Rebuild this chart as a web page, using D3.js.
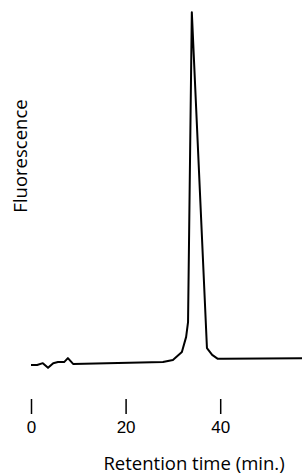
<!DOCTYPE html>
<html>
<head>
<meta charset="utf-8">
<script src="https://cdn.jsdelivr.net/npm/d3@7"></script>
<style>
  body { margin: 0; background: #fff; }
  svg { display: block; font-family: "Open Sans", sans-serif; }
  .trace { fill: none; stroke: #000; stroke-width: 2; stroke-linejoin: round; }
  .axis path.domain { display: none; }
  .axis line { stroke: #000; stroke-width: 1.5; }
  .axis text { fill: #000; font-size: 17px; }
  .label { font-size: 18.5px; fill: #000; }
</style>
</head>
<body>
<svg id="chart"></svg>
<script>
// retention time (min.) and fluorescence (arbitrary units)
const retentionTime = [0, 1.3, 2.5, 3.6, 4.7, 5.7, 7.0, 7.8, 8.9, 27.9, 30.0, 31.9, 32.8, 33.2, 34.0, 37.2, 38.3, 39.5, 40.6, 57.5];
const fluorescence  = [1.4, 1.4, 1.9, 0.6, 1.9, 2.2, 2.2, 3.3, 1.7, 2.2, 2.8, 5.0, 9.2, 13.3, 99.4, 6.1, 4.2, 3.1, 3.1, 3.3];
const xTicks = [0, 20, 40];

const width = 302, height = 475;

const svg = d3.select('#chart')
    .attr('width', width)
    .attr('height', height);

const x = d3.scaleLinear().domain([0, 40]).range([31, 220.2]);
const y = d3.scaleLinear().domain([0, 100]).range([370, 10]);

const points = retentionTime.map((t, i) => [t, fluorescence[i]]);

svg.append('path')
    .attr('class', 'trace')
    .attr('d', d3.line()
        .x(d => x(d[0]))
        .y(d => y(d[1]))(points));

// ticks sit well below the trace, no axis line
svg.append('g')
    .attr('class', 'axis')
    .attr('transform', 'translate(0,399)')
    .call(d3.axisBottom(x).tickValues(xTicks).tickSize(15).tickPadding(7).tickFormat(d3.format('d')));

svg.append('text')
    .attr('class', 'label')
    .attr('x', 194)
    .attr('y', 470)
    .attr('text-anchor', 'middle')
    .text('Retention time (min.)');

svg.append('text')
    .attr('class', 'label')
    .attr('transform', 'translate(27,156) rotate(-90)')
    .attr('text-anchor', 'middle')
    .text('Fluorescence');
</script>
</body>
</html>
